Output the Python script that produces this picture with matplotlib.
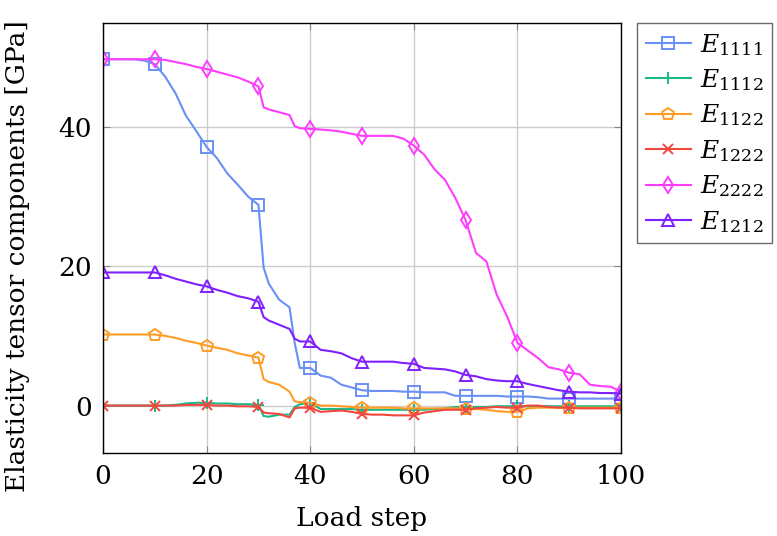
import matplotlib
matplotlib.use("Agg")
import matplotlib.pyplot as plt
import numpy as np

plt.rcParams['font.family'] = ['DejaVu Serif']
plt.rcParams['mathtext.fontset'] = 'dejavuserif'

# load steps where the curves were sampled
steps = [0, 2, 4, 6, 8, 10, 12, 14, 16, 18, 20, 22, 24, 26, 28, 30, 31, 32, 34, 36, 37, 38,
         40, 42, 44, 46, 48, 50, 52, 54, 56, 58, 60, 62, 64, 66, 68, 70, 72, 74, 76, 78,
         80, 82, 84, 86, 88, 90, 92, 94, 96, 98, 100]

E1111 = [49.7, 49.7, 49.7, 49.7, 49.5, 49.0, 47.2, 44.8, 41.6, 39.4, 37.1, 35.5, 33.3, 31.7, 30.0, 28.8, 19.8, 17.5, 15.2, 14.1, 9.0, 5.4,
         5.4, 4.3, 4.0, 3.0, 2.6, 2.2, 2.1, 2.1, 2.1, 2.0, 2.0, 1.9, 1.9, 1.9, 1.4, 1.4, 1.4, 1.4, 1.4, 1.3,
         1.3, 1.3, 1.2, 1.0, 1.0, 1.0, 1.0, 1.0, 1.0, 1.0, 1.0]
E1112 = [0.0, 0.0, 0.0, 0.0, 0.0, 0.0, 0.0, 0.1, 0.3, 0.4, 0.4, 0.3, 0.3, 0.2, 0.2, 0.1, -1.5, -1.6, -1.3, -1.3, -0.2, 0.2,
         0.4, -0.5, -0.5, -0.5, -0.5, -0.6, -0.6, -0.6, -0.6, -0.6, -0.6, -0.6, -0.5, -0.4, -0.2, -0.2, -0.2, -0.2, -0.1, -0.1,
         -0.1, -0.1, -0.1, -0.1, -0.1, -0.1, -0.1, -0.1, -0.1, -0.1, -0.1]
E1122 = [10.2, 10.2, 10.2, 10.2, 10.2, 10.2, 10.0, 9.7, 9.3, 9.0, 8.6, 8.3, 8.0, 7.5, 7.2, 6.9, 3.8, 3.4, 3.0, 2.0, 0.6, 0.5,
         0.4, 0.0, 0.0, -0.1, -0.2, -0.3, -0.3, -0.3, -0.3, -0.4, -0.4, -0.4, -0.4, -0.4, -0.4, -0.5, -0.5, -0.6, -0.8, -0.9,
         -0.9, -0.4, -0.3, -0.3, -0.3, -0.3, -0.3, -0.3, -0.3, -0.3, -0.3]
E1222 = [0.0, 0.0, 0.0, 0.0, 0.0, 0.0, 0.0, 0.0, 0.1, 0.1, 0.1, 0.0, 0.0, -0.1, -0.1, -0.2, -1.0, -1.1, -1.2, -1.7, -0.4, -0.3,
         -0.3, -0.9, -0.8, -0.7, -0.9, -1.2, -1.3, -1.3, -1.4, -1.4, -1.4, -1.0, -0.8, -0.6, -0.6, -0.6, -0.4, -0.3, -0.2, -0.3,
         -0.3, 0.0, 0.0, -0.2, -0.3, -0.3, -0.4, -0.4, -0.4, -0.4, -0.4]
E2222 = [49.7, 49.7, 49.7, 49.7, 49.7, 49.7, 49.6, 49.3, 49.0, 48.6, 48.3, 47.9, 47.5, 47.1, 46.5, 45.8, 42.8, 42.5, 42.1, 41.7, 40.1, 39.8,
         39.7, 39.6, 39.5, 39.3, 39.0, 38.7, 38.7, 38.7, 38.7, 38.3, 37.3, 36.0, 33.9, 32.4, 29.8, 26.6, 21.9, 20.7, 15.9, 12.8,
         9.0, 7.9, 6.8, 5.5, 5.2, 4.7, 4.5, 3.0, 2.8, 2.7, 2.0]
E1212 = [19.1, 19.1, 19.1, 19.1, 19.1, 19.1, 18.7, 18.2, 17.8, 17.4, 17.1, 16.6, 16.2, 15.7, 15.4, 14.9, 12.7, 12.2, 11.6, 11.0, 9.6, 9.2,
         9.2, 8.0, 7.8, 7.5, 6.8, 6.3, 6.3, 6.3, 6.3, 6.1, 6.0, 5.4, 5.3, 5.2, 4.9, 4.4, 4.2, 3.8, 3.6, 3.5,
         3.5, 3.1, 2.8, 2.5, 2.2, 2.0, 1.9, 1.9, 1.8, 1.8, 1.7]

labels = ['$E_{1111}$', '$E_{1112}$', '$E_{1122}$', '$E_{1222}$', '$E_{2222}$', '$E_{1212}$']
series = [E1111, E1112, E1122, E1222, E2222, E1212]
colors = ['#6a8ff5', '#1ab987', '#ff9c26', '#f2473f', '#ff3dff', '#8020ff']
markers = ['s', '+', 'p', 'x', 'd', '^']
sizes = [8.5, 9, 9, 7, 8, 8]

marks = [i for i, s in enumerate(steps) if s % 10 == 0]

fig = plt.figure(figsize=(7.77, 5.36), dpi=100)
ax = fig.add_axes([0.1326, 0.1549, 0.6667, 0.8022])

for y, lab, c, m, ms in zip(series, labels, colors, markers, sizes):
    ax.plot(steps, y, color=c, lw=1.5, marker=m, markersize=ms, markevery=marks,
            markerfacecolor='none', markeredgecolor=c, markeredgewidth=1.4, label=lab)

ax.set_xlim(0, 100)
ax.set_ylim(-6.8, 54.9)
ax.set_xticks([0, 20, 40, 60, 80, 100])
ax.set_yticks([0, 20, 40])
ax.grid(True, color='#cccccc', lw=1.0)
ax.set_axisbelow(True)
ax.tick_params(direction='in', length=5, color='#888888', labelsize=19,
               top=True, right=True, pad=8)
for sp in ax.spines.values():
    sp.set_linewidth(1.0)

ax.set_xlabel('Load step', fontsize=19, labelpad=12)
ax.set_ylabel('Elasticity tensor components [GPa]', fontsize=19)
ax.yaxis.set_label_coords(-0.141, 0.458)

leg = ax.legend(loc='upper left', bbox_to_anchor=(1.031, 1.0), borderaxespad=0,
                fontsize=18, frameon=True, fancybox=False, edgecolor='#444444',
                handlelength=1.8, labelspacing=0.38, borderpad=0.35, handletextpad=0.35)
leg.get_frame().set_linewidth(1.0)

fig.savefig('out.png', dpi=100)
